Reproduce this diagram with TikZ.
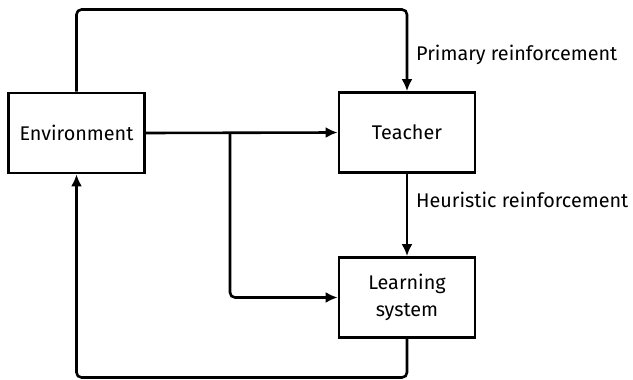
\documentclass[tikz,border=0pt]{standalone}
\usepackage{fontspec}
\setmainfont{Fira Sans}
\usetikzlibrary{arrows.meta}
\begin{document}
\begin{tikzpicture}[x=1pt,y=-1pt,
  block/.style={draw, line width=2.8pt, minimum width=136pt, minimum height=80pt,
    inner sep=0pt, align=center, font=\fontsize{19.8}{27}\selectfont},
  link/.style={line width=2.6pt, rounded corners=5pt},
  tip/.style={-{Latex[length=12pt,width=11pt]}},
  lbl/.style={anchor=west, inner sep=0pt, font=\fontsize{19.8}{25}\selectfont}]
\useasboundingbox (0,0) rectangle (633,380);
\node[block] (env) at (76.5,133) {Environment};
\node[block] (teach) at (407,132.5) {Teacher};
\node[block] (learn) at (407,297.5) {Learning\\system};
\coordinate (split) at (230,133);
% primary reinforcement loop over the top
\draw[link,tip] (env.north) -- (76.5,9.5) -- (407,9.5) -- (teach.north);
% environment state to teacher and learning system
\draw[link,tip] (env.east) -- (teach.west);
\draw[link,tip] (split) -- (230,297.5) -- (learn.west);
% heuristic reinforcement
\draw[link,tip] (teach.south) -- (learn.north);
% action back to environment
\draw[link,tip] (learn.south) -- (407,377.5) -- (76.5,377.5) -- (env.south);
\node[lbl] (prim) at (416,55) {Primary reinforcement};
\node[lbl] (heur) at (416,200) {Heuristic reinforcement};
\end{tikzpicture}
\end{document}
